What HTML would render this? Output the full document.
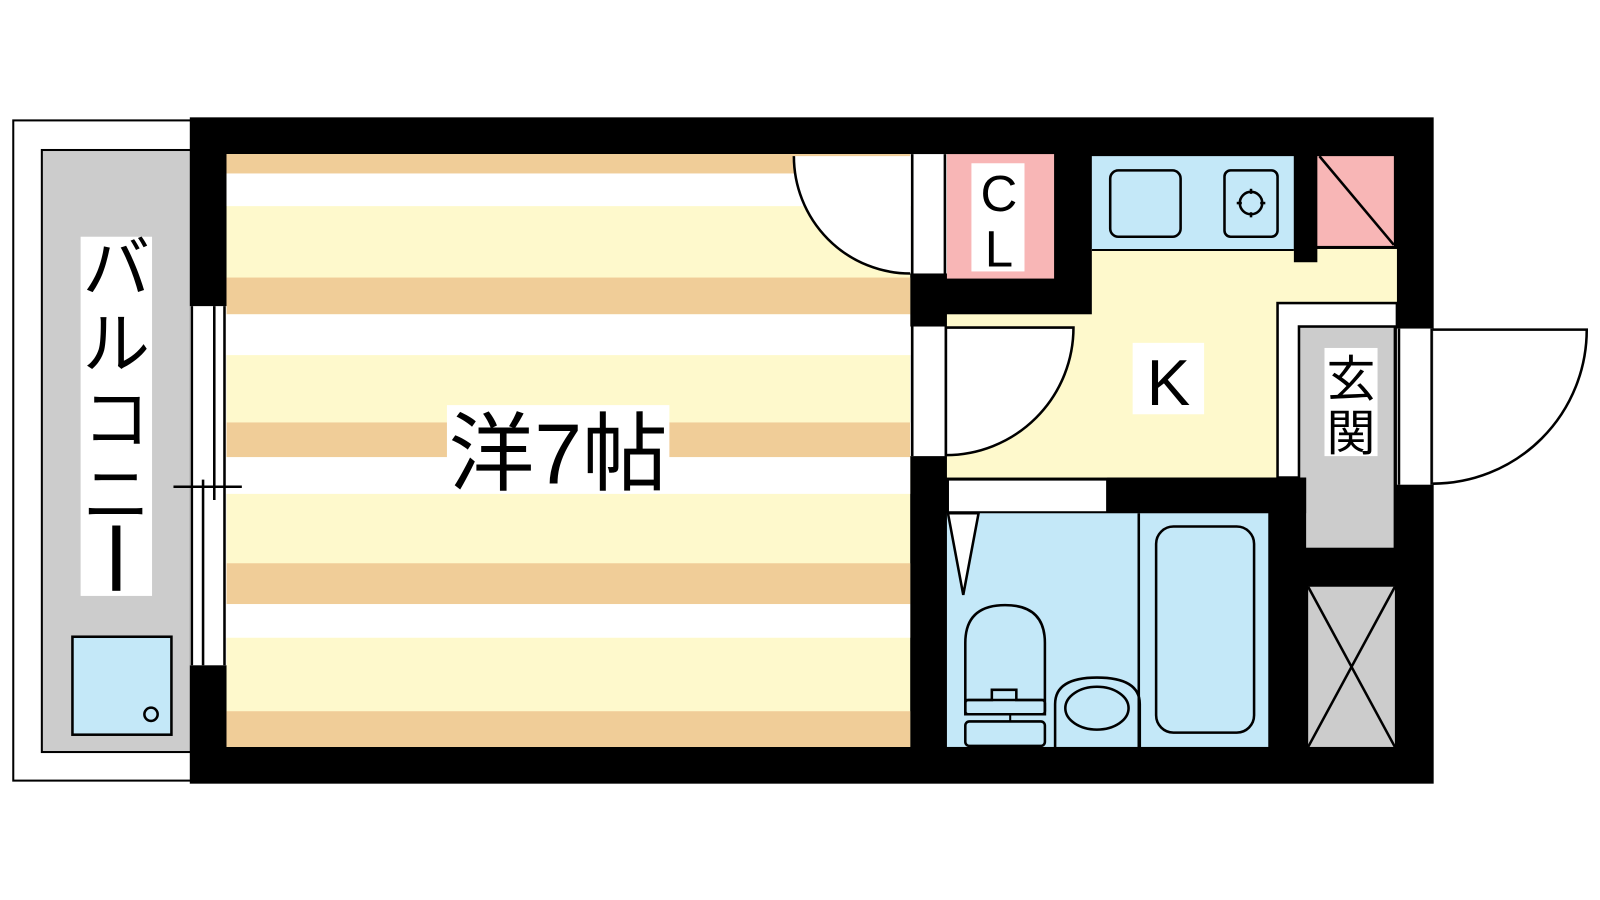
<!DOCTYPE html>
<html><head><meta charset="utf-8"><style>
html,body{margin:0;padding:0;background:#fff;width:1600px;height:900px;overflow:hidden}
svg{display:block}
text{font-family:"Liberation Sans","Noto Sans CJK JP",sans-serif;fill:#000}
</style></head><body>
<svg width="1600" height="900" viewBox="0 0 1568 882" xmlns="http://www.w3.org/2000/svg">
<rect width="1568" height="882" fill="#fff"/>
<rect x="13" y="118" width="175" height="647" fill="#fff" stroke="#000" stroke-width="2"/>
<rect x="41" y="147" width="147" height="590" fill="#ccc" stroke="#000" stroke-width="2"/>
<rect x="79" y="232" width="70" height="352" fill="#fff"/>
<text x="114" y="286" font-size="66" text-anchor="middle">バ</text>
<text x="114" y="360" font-size="66" text-anchor="middle">ル</text>
<text x="114" y="434" font-size="66" text-anchor="middle">コ</text>
<text x="114" y="508" font-size="66" text-anchor="middle">ニ</text>
<rect x="110" y="515" width="8" height="64" fill="#000"/>
<rect x="71" y="624" width="97" height="96" fill="#c4e8f8" stroke="#000" stroke-width="2.5"/>
<circle cx="148" cy="700" r="6.5" fill="none" stroke="#000" stroke-width="2.5"/>
<rect x="186" y="115" width="1219" height="653" fill="#000"/>
<rect x="222" y="151" width="670" height="581" fill="#fef9cc"/>
<g fill="#f0cd98">
<rect x="222" y="151" width="670" height="19"/>
<rect x="222" y="272" width="670" height="36"/>
<rect x="222" y="414" width="670" height="34"/>
<rect x="222" y="552" width="670" height="40"/>
<rect x="222" y="697" width="670" height="35"/>
</g>
<g fill="#fff">
<rect x="222" y="170" width="670" height="32"/>
<rect x="222" y="308" width="670" height="40"/>
<rect x="222" y="448" width="670" height="36"/>
<rect x="222" y="592" width="670" height="33"/>
</g>
<rect x="438" y="397" width="218" height="85" fill="#fff"/>
<text x="547" y="474" font-size="84" text-anchor="middle">洋7帖</text>
<rect x="186" y="300" width="36" height="352" fill="#fff"/>
<g stroke="#000" stroke-width="2.5">
<line x1="188" y1="300" x2="188" y2="652"/>
<line x1="199" y1="470" x2="199" y2="652"/>
<line x1="210" y1="300" x2="210" y2="490"/>
<line x1="220" y1="300" x2="220" y2="652"/>
<line x1="170" y1="477" x2="237" y2="477"/>
</g>
<rect x="892" y="151" width="36" height="117" fill="#fff"/>
<line x1="894" y1="151" x2="894" y2="268" stroke="#000" stroke-width="2.5"/>
<line x1="926" y1="151" x2="926" y2="268" stroke="#000" stroke-width="2.5"/>
<path d="M778,153 A114,115 0 0 0 892,268 L892,153 Z" fill="#fff"/>
<path d="M778,153 A114,115 0 0 0 892,268" fill="none" stroke="#000" stroke-width="2.5"/>
<rect x="928" y="151" width="105" height="122" fill="#f8b6b6"/>
<rect x="952" y="160" width="52" height="106" fill="#fff"/>
<text x="979" y="207" font-size="50" text-anchor="middle">C</text>
<text x="979" y="261" font-size="50" text-anchor="middle">L</text>
<rect x="928" y="308" width="441" height="160" fill="#fef9cc"/>
<rect x="1070" y="244" width="299" height="70" fill="#fef9cc"/>
<rect x="1070" y="153" width="198" height="92" fill="#c4e8f8"/>
<line x1="1070" y1="245" x2="1268" y2="245" stroke="#000" stroke-width="2"/>
<rect x="1088" y="167" width="69" height="65" rx="8" fill="none" stroke="#000" stroke-width="2.5"/>
<rect x="1200" y="167" width="52" height="65" rx="6" fill="none" stroke="#000" stroke-width="2.5"/>
<circle cx="1226" cy="199" r="11" fill="none" stroke="#000" stroke-width="2.5"/>
<g stroke="#000" stroke-width="2.5"><line x1="1226" y1="185" x2="1226" y2="190"/><line x1="1226" y1="208" x2="1226" y2="213"/><line x1="1212" y1="199" x2="1217" y2="199"/><line x1="1235" y1="199" x2="1240" y2="199"/></g>
<rect x="1268" y="151" width="23" height="106" fill="#000"/>
<rect x="1291" y="153" width="75" height="88" fill="#f8b6b6"/>
<line x1="1293" y1="153" x2="1366" y2="240" stroke="#000" stroke-width="2.5"/>
<rect x="892" y="320" width="36" height="127" fill="#fff"/>
<line x1="894" y1="320" x2="894" y2="447" stroke="#000" stroke-width="2.5"/>
<line x1="927" y1="320" x2="927" y2="447" stroke="#000" stroke-width="2.5"/>
<path d="M927,321 L1052,321 A125,125 0 0 1 927,446 Z" fill="#fff" stroke="#000" stroke-width="2.5"/>
<rect x="1110" y="336" width="70" height="70" fill="#fff"/>
<text x="1145" y="397" font-size="64" text-anchor="middle">K</text>
<rect x="1252" y="297" width="117" height="171" fill="#fff" stroke="#000" stroke-width="2.5"/>
<rect x="1273" y="320" width="94" height="218" fill="#ccc" stroke="#000" stroke-width="2.5"/>
<rect x="1298" y="341" width="52" height="106" fill="#fff"/>
<text x="1324" y="388" font-size="48" text-anchor="middle">玄</text>
<text x="1324" y="441" font-size="48" text-anchor="middle">関</text>
<rect x="1369" y="322" width="36" height="153" fill="#fff"/>
<line x1="1371" y1="322" x2="1371" y2="475" stroke="#000" stroke-width="2.5"/>
<line x1="1403" y1="322" x2="1403" y2="475" stroke="#000" stroke-width="2.5"/>
<path d="M1404,323 L1555,323 A151,151 0 0 1 1404,474" fill="none" stroke="#000" stroke-width="2.5"/>
<rect x="1085" y="468" width="195" height="35" fill="#000"/>
<rect x="929" y="470" width="156" height="32" fill="#fff" stroke="#000" stroke-width="2"/>
<rect x="928" y="503" width="315" height="229" fill="#c4e8f8"/>
<rect x="1243" y="468" width="37" height="264" fill="#000"/>
<rect x="1280" y="538" width="89" height="37" fill="#000"/>
<path d="M929,503 L959,503 L944,583 Z" fill="#fff" stroke="#000" stroke-width="2.5"/>
<line x1="1116" y1="503" x2="1116" y2="732" stroke="#000" stroke-width="2.5"/>
<rect x="1133" y="516" width="96" height="202" rx="17" fill="none" stroke="#000" stroke-width="2.5"/>
<path d="M946,700 L946,630 Q946,593 985,593 Q1024,593 1024,630 L1024,700 Z" fill="none" stroke="#000" stroke-width="2.5"/>
<path d="M946,686 L972,686 L972,676 L996,676 L996,686 L1024,686" fill="none" stroke="#000" stroke-width="2.5"/>
<rect x="946" y="686" width="78" height="14" rx="3" fill="none" stroke="#000" stroke-width="2.5"/>
<line x1="990" y1="700" x2="990" y2="707" stroke="#000" stroke-width="2"/>
<rect x="946" y="707" width="78" height="24" rx="4" fill="none" stroke="#000" stroke-width="2.5"/>
<path d="M1034,732 L1034,690 Q1034,664 1075,664 Q1117,664 1117,690 L1117,732" fill="none" stroke="#000" stroke-width="2.5"/>
<ellipse cx="1075" cy="694" rx="31" ry="21" fill="none" stroke="#000" stroke-width="2.5"/>
<rect x="1282" y="575" width="85" height="157" fill="#ccc"/>
<line x1="1282" y1="575" x2="1367" y2="732" stroke="#000" stroke-width="2.5"/>
<line x1="1367" y1="575" x2="1282" y2="732" stroke="#000" stroke-width="2.5"/>
</svg>
</body></html>
